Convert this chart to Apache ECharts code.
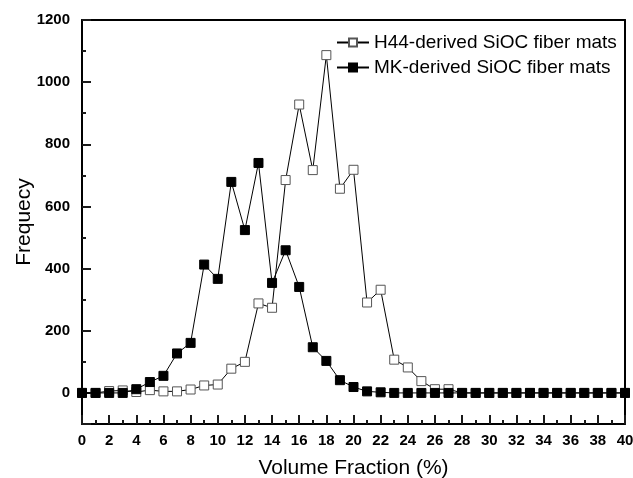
<!DOCTYPE html>
<html lang="en">
<head>
    <meta charset="UTF-8">
    <title>Volume fraction distribution</title>
    <script src="https://cdn.jsdelivr.net/npm/echarts@6/dist/echarts.min.js"></script>
    <style>
        html, body { margin: 0; padding: 0; background: #fff; }
        #main { width: 633px; height: 478px; }
    </style>
</head>
<body>
<div id="main"></div>
<script>
    // volume fraction (%) from 0 to 40
    const fractions = [];
    for (let i = 0; i <= 40; i++) fractions.push(i);

    const seriesNames = ['H44-derived SiOC fiber mats', 'MK-derived SiOC fiber mats'];

    // H44-derived (hollow squares)
    const h44Values = [0, 0, 6, 8, 3, 9, 5, 5, 11, 24, 27, 78, 100, 288, 274, 685, 928, 717, 1087, 657,
        718, 291, 332, 107, 82, 38, 12, 12, 0, 0, 0, 0, 0, 0, 0, 0, 0, 0, 0, 0, 0];
    // MK-derived (filled squares)
    const mkValues = [0, 0, 0, 0, 12, 35, 55, 127, 161, 413, 367, 679, 524, 740, 354, 459, 341, 147, 103, 41,
        19, 5, 2, 0, 0, 0, 0, 0, 0, 0, 0, 0, 0, 0, 0, 0, 0, 0, 0, 0, 0];

    const font = 'Liberation Sans, Arial, sans-serif';
    const tickColor = '#1a1a1a';

    function black() {
        return { color: '#000', width: 2 };
    }

    function pairs(vals) {
        return fractions.map((x, i) => [x, vals[i]]);
    }

    let myChart = echarts.init(document.getElementById('main'));
    let option = {
        animation: false,
        backgroundColor: '#fff',
        grid: {
            left: 82, right: 8, top: 20, bottom: 54,
            containLabel: false,
            outerBoundsMode: 'none'
        },
        legend: {
            orient: 'vertical',
            left: 331,
            top: 28,
            itemWidth: 32,
            itemHeight: 10,
            itemGap: 6,
            textStyle: { fontSize: 19, color: '#000', fontFamily: font },
            data: seriesNames
        },
        xAxis: [
            {
                type: 'value',
                position: 'bottom',
                min: 0, max: 40, interval: 2,
                name: 'Volume Fraction (%)',
                nameLocation: 'middle',
                nameGap: 34,
                nameMoveOverlap: false,
                nameTextStyle: { fontSize: 21, color: '#000', fontFamily: font },
                // sit on the zero of the right frame axis, i.e. the bottom of the grid
                axisLine: { show: true, onZero: true, onZeroAxisIndex: 2, lineStyle: black() },
                axisTick: { show: true, inside: true, length: 9, lineStyle: { color: tickColor, width: 2 } },
                minorTick: { show: true, splitNumber: 2, length: 4, lineStyle: { color: tickColor, width: 2 } },
                axisLabel: { fontSize: 15, fontWeight: 'bold', color: '#000', fontFamily: font, margin: 9 },
                splitLine: { show: false }
            },
            {
                // top frame line
                type: 'value',
                position: 'top',
                min: 0, max: 40,
                axisLine: { show: true, onZero: false, lineStyle: black() },
                axisTick: { show: false },
                axisLabel: { show: false },
                splitLine: { show: false }
            }
        ],
        yAxis: [
            {
                type: 'value',
                position: 'left',
                min: -100, max: 1200, interval: 100,
                name: 'Frequecy',
                nameLocation: 'middle',
                nameGap: 47,
                nameMoveOverlap: false,
                nameTextStyle: { fontSize: 21, color: '#000', fontFamily: font },
                axisLine: { show: true, onZero: false, lineStyle: black() },
                axisTick: { show: true, inside: true, length: 4, lineStyle: { color: tickColor, width: 2 } },
                axisLabel: {
                    fontSize: 15, fontWeight: 'bold', color: '#000', fontFamily: font, margin: 12,
                    formatter: v => (v % 200 === 0 ? String(v) : '')
                },
                splitLine: { show: false }
            },
            {
                // longer ticks at 0, 200 ... 1200 (inverted so ticks counted from the top)
                type: 'value',
                position: 'left',
                inverse: true,
                min: 0, max: 1300, interval: 200,
                axisLine: { show: true, onZero: false, lineStyle: { color: '#000', width: 1 } },
                axisTick: { show: true, inside: true, length: 9, lineStyle: { color: tickColor, width: 2 } },
                axisLabel: { show: false },
                splitLine: { show: false }
            },
            {
                // right frame line
                type: 'value',
                position: 'right',
                min: 0, max: 1300,
                axisLine: { show: true, onZero: false, lineStyle: black() },
                axisTick: { show: false },
                axisLabel: { show: false },
                splitLine: { show: false }
            }
        ],
        series: [
            {
                name: seriesNames[0],
                type: 'line',
                xAxisIndex: 0,
                yAxisIndex: 0,
                symbol: 'rect',
                symbolSize: 9,
                lineStyle: { color: '#000', width: 1 },
                itemStyle: { color: '#fff', borderColor: '#555', borderWidth: 1 },
                data: pairs(h44Values),
                z: 2
            },
            {
                name: seriesNames[1],
                type: 'line',
                xAxisIndex: 0,
                yAxisIndex: 0,
                symbol: 'rect',
                symbolSize: 9,
                lineStyle: { color: '#000', width: 1 },
                itemStyle: { color: '#000', borderColor: '#000', borderWidth: 1 },
                data: pairs(mkValues),
                z: 3
            }
        ]
    };
    myChart.setOption(option);
</script>
</body>
</html>
